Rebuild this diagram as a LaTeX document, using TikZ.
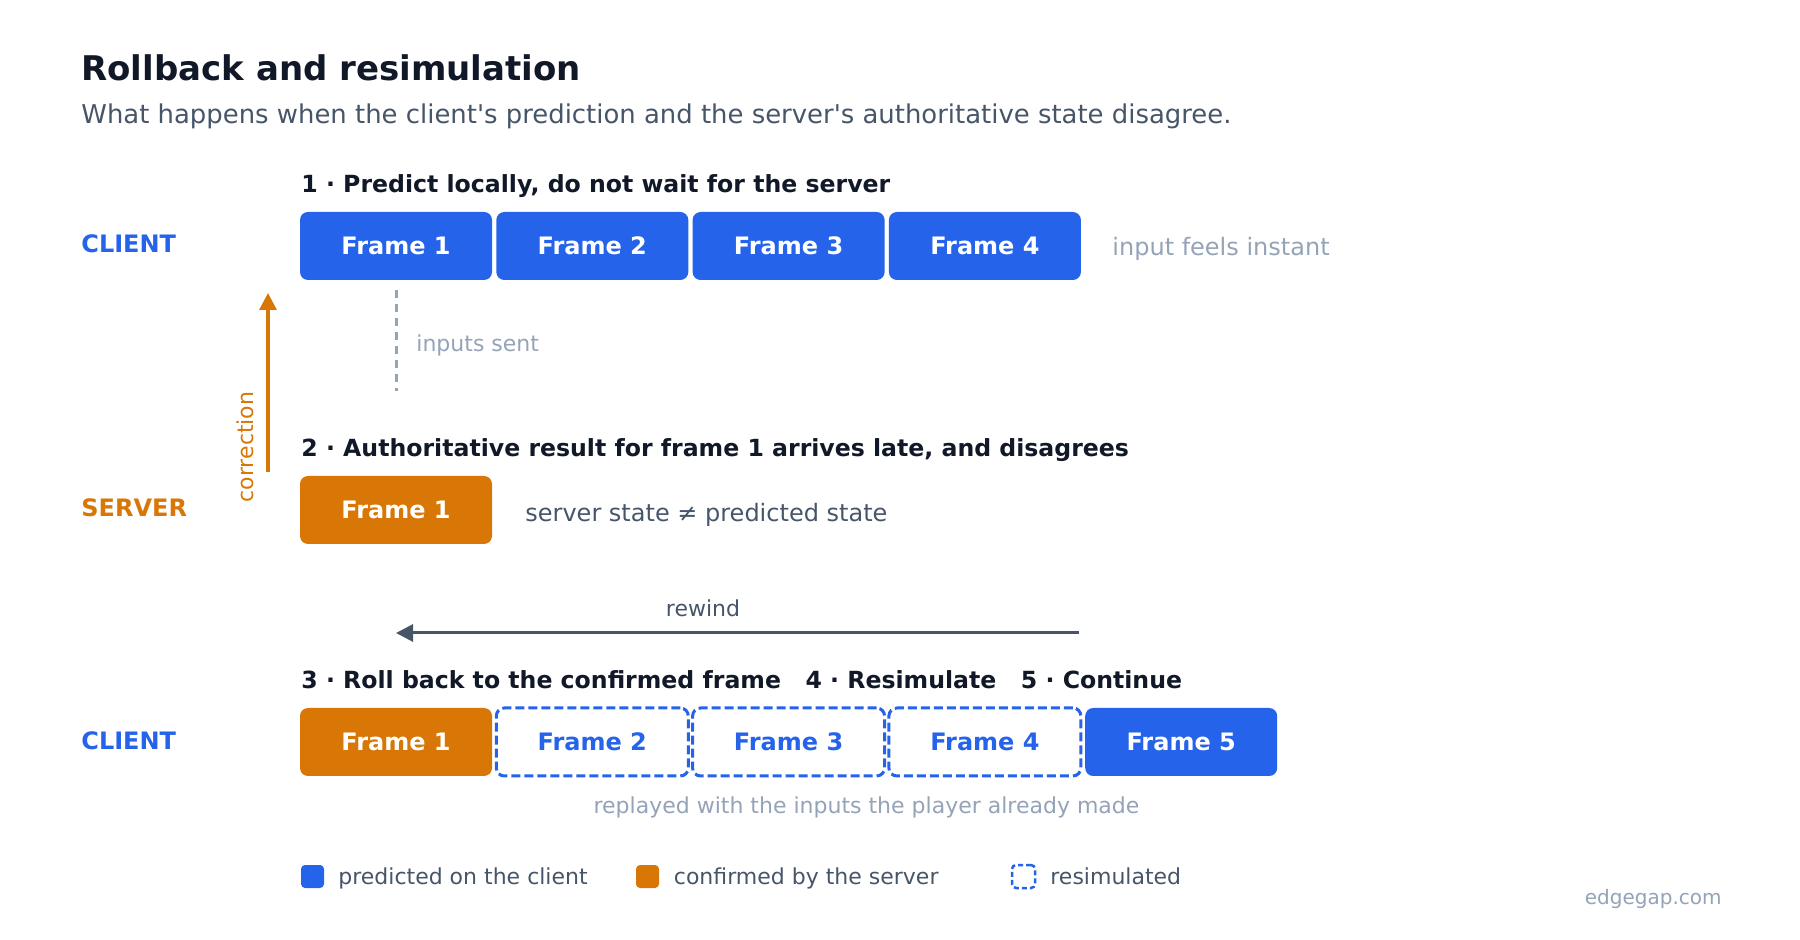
\documentclass[tikz,border=0pt]{standalone}
\usepackage{fontspec}
\setmainfont{DejaVu Sans}
\usepackage{tikz}
\usetikzlibrary{arrows.meta}

\definecolor{cblue}{HTML}{2563EB}
\definecolor{corange}{HTML}{D97706}
\definecolor{cink}{HTML}{111827}
\definecolor{cslate}{HTML}{475569}
\definecolor{cmuted}{HTML}{94A3B8}

\tikzset{
  txt/.style={anchor=base west, inner sep=0pt},
  stephead/.style={txt, text=cink, font=\bfseries\fontsize{11.8}{14}\selectfont},
  side/.style={txt, font=\bfseries\fontsize{12}{14}\selectfont},
  note/.style={txt, font=\fontsize{12}{14}\selectfont},
  small/.style={txt, font=\fontsize{11}{13}\selectfont},
  predbox/.style={fill=cblue, text=white, font=\bfseries\fontsize{12}{14}\selectfont,
    rounded corners=4pt, minimum width=96pt, minimum height=34pt, inner sep=0pt},
  confbox/.style={predbox, fill=corange},
  resimbox/.style={predbox, fill=white, draw=cblue, text=cblue, line width=1.5pt,
    dash pattern=on 4.5pt off 2pt},
  keybox/.style={minimum size=11.5pt, inner sep=0pt, rounded corners=2pt},
  tip/.style={-{Triangle[width=8.5pt,length=8.5pt]}}
}

\begin{document}
\begin{tikzpicture}[x=0.5pt, y=-0.5pt]
  % sizes
  \pgfmathsetmacro{\pitch}{196.3}
  \pgfmathsetmacro{\xa}{396}
  \useasboundingbox (0,0) rectangle (1800,940);

  % heading
  \node[txt, text=cink, font=\bfseries\fontsize{17}{20}\selectfont] (title) at (81,81) {Rollback and resimulation};
  \node[txt, text=cslate, font=\fontsize{12.95}{15}\selectfont] (sub) at (81,124) {What happens when the client\textquotesingle s prediction and the server\textquotesingle s authoritative state disagree.};

  % step 1: client predicts
  \node[stephead] (h1) at (301,193) {1 · Predict locally, do not wait for the server};
  \node[side, text=cblue] (cl1) at (81,253) {CLIENT};
  \node[predbox] (p1) at (\xa,246) {Frame 1};
  \node[predbox] (p2) at (\xa+\pitch,246) {Frame 2};
  \node[predbox] (p3) at (\xa+2*\pitch,246) {Frame 3};
  \node[predbox] (p4) at (\xa+3*\pitch,246) {Frame 4};
  \node[note, text=cmuted] (fast) at (1112,256) {input feels instant};

  % inputs sent
  \coordinate (sent) at (\xa,391);
  \draw[cmuted, line width=1.5pt, dash pattern=on 4pt off 3pt] ([yshift=-5pt]p1.south) -- (sent);
  \node[small, text=cmuted] (sentlbl) at (416,352) {inputs sent};

  % correction
  \coordinate (corrlo) at (268,472);
  \coordinate (corrhi) at (268,293);
  \draw[corange, line width=1.6pt, tip] (corrlo) -- (corrhi);
  \node[rotate=90, inner sep=0pt, text=corange, font=\fontsize{11}{13}\selectfont] (corrlbl) at (245,447) {correction};

  % step 2: server answers
  \node[stephead] (h2) at (301,457) {2 · Authoritative result for frame 1 arrives late, and disagrees};
  \node[side, text=corange] (srv) at (81,517) {SERVER};
  \node[confbox] (s1) at (\xa,510) {Frame 1};
  \node[note, text=cslate] (diff) at (525,522) {server state ≠ predicted state};

  % rewind
  \coordinate (rwfrom) at (1079,633);
  \coordinate (rwto) at (396,633);
  \draw[cslate, line width=1.5pt, tip] (rwfrom) -- (rwto);
  \node[small, anchor=base, text=cslate] (rw) at (703,617) {rewind};

  % steps 3-5: client rolls back
  \node[stephead] (h3) at (301,689) {3 · Roll back to the confirmed frame\hspace{1.04em}4 · Resimulate\hspace{1.04em}5 · Continue};
  \node[side, text=cblue] (cl2) at (81,749) {CLIENT};
  \node[confbox] (r1) at (\xa,742) {Frame 1};
  \node[resimbox] (r2) at (\xa+\pitch,742) {Frame 2};
  \node[resimbox] (r3) at (\xa+2*\pitch,742) {Frame 3};
  \node[resimbox] (r4) at (\xa+3*\pitch,742) {Frame 4};
  \node[predbox] (r5) at (\xa+4*\pitch,742) {Frame 5};
  \node[small, anchor=base, text=cmuted] (replay) at (866.5,813) {replayed with the inputs the player already made};

  % legend
  \node[keybox, fill=cblue] (k1) at (312.5,876.5) {};
  \node[small, text=cslate] (k1t) at (338,884) {predicted on the client};
  \node[keybox, fill=corange] (k2) at (647.5,876.5) {};
  \node[small, text=cslate] (k2t) at (673.5,884) {confirmed by the server};
  \node[keybox, draw=cblue, line width=1.25pt, dash pattern=on 2.5pt off 1.5pt] (k3) at (1023.5,876.5) {};
  \node[small, text=cslate] (k3t) at (1050,884) {resimulated};

  % footer
  \node[inner sep=0pt, anchor=base east, text=cmuted, font=\fontsize{10}{12}\selectfont] (brand) at (1722,904) {edgegap.com};
\end{tikzpicture}
\end{document}
